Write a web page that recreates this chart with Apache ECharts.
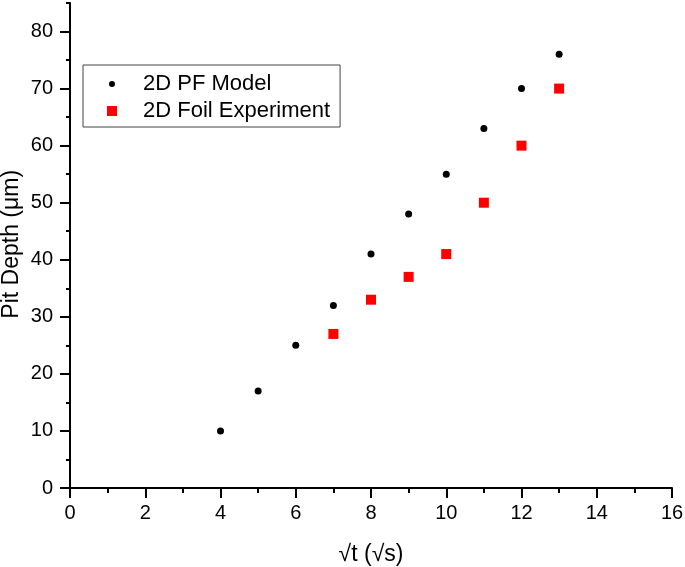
<!DOCTYPE html>
<html>
<head>
<meta charset="utf-8">
<script src="https://cdn.jsdelivr.net/npm/echarts@6/dist/echarts.min.js"></script>
<style>
html,body{margin:0;padding:0;background:#fff;}
#chart{width:685px;height:567px;}
</style>
</head>
<body>
<div id="chart"></div>
<script>
// ---- data ----
var modelX = [4, 5, 6, 7, 8, 9, 10, 11, 12, 13];
var modelY = [10, 17, 25, 32, 41, 48, 55, 63, 70, 76];
var foilX = [7, 8, 9, 10, 11, 12, 13];
var foilY = [27, 33, 37, 41, 50, 60, 70];
var seriesNames = ['2D PF Model', '2D Foil Experiment'];
var xTitle = '\u221At (\u221As)';
var yTitle = 'Pit Depth (\u03BCm)';

function pairs(xs, ys) { return xs.map(function (x, i) { return [x, ys[i]]; }); }

var FONT = '"Liberation Sans", Arial, sans-serif';
var chart = echarts.init(document.getElementById('chart'), null, {renderer: 'canvas'});

var circleIcon = 'path://M0,0L0.01,0L0,0.01Z M31,10L30.99,10L31,9.99Z M5,2A3,3 0 1 1 4.999,2Z';
var squareIcon = 'path://M0,0L0.01,0L0,0.01Z M31,10L30.99,10L31,9.99Z M0,0L10,0L10,10L0,10Z';

var gridTop = 3, gridBottom = 79;
var plotH = 567 - gridTop - gridBottom;
var grid2Top = gridTop + plotH * 5 / 85;

chart.setOption({
  backgroundColor: '#ffffff',
  animation: false,
  textStyle: {fontFamily: FONT},
  grid: [
    {left: 70, right: 13, top: gridTop, bottom: gridBottom, containLabel: false, outerBoundsMode: 'none'},
    {left: 70, right: 13, top: grid2Top, bottom: gridBottom, containLabel: false, outerBoundsMode: 'none'}
  ],
  legend: {
    left: 83, top: 65,
    orient: 'vertical',
    padding: [8, 10, 5, 24],
    itemGap: 5,
    itemWidth: 31, itemHeight: 10,
    borderColor: '#444', borderWidth: 1,
    textStyle: {fontFamily: FONT, fontSize: 22, color: '#000', lineHeight: 22},
    data: [
      {name: seriesNames[0], icon: circleIcon},
      {name: seriesNames[1], icon: squareIcon}
    ]
  },
  xAxis: [{
    gridIndex: 0,
    type: 'value', min: 0, max: 16, interval: 2,
    name: xTitle, nameLocation: 'middle', nameGap: 55,
    nameTextStyle: {fontFamily: FONT, fontSize: 23, color: '#000'},
    axisLine: {show: true, onZero: false, lineStyle: {color: '#000', width: 2}},
    axisTick: {show: true, length: 10, lineStyle: {color: '#000', width: 2}},
    minorTick: {show: true, splitNumber: 2, length: 5, lineStyle: {color: '#000', width: 2}},
    axisLabel: {fontFamily: FONT, fontSize: 20, color: '#000', margin: 15},
    splitLine: {show: false}
  }, {
    gridIndex: 1, type: 'value', min: 0, max: 16, show: false
  }],
  yAxis: [{
    gridIndex: 0,
    type: 'value', min: 0, max: 85, interval: 5,
    axisLine: {show: true, onZero: false, lineStyle: {color: '#000', width: 2}},
    axisTick: {show: true, length: 4, lineStyle: {color: '#000', width: 2}},
    axisLabel: {
      fontFamily: FONT, fontSize: 20, color: '#000', margin: 17,
      formatter: function (v) { return (v % 10 === 0) ? String(v) : ''; }
    },
    splitLine: {show: false}
  }, {
    gridIndex: 1,
    type: 'value', min: 0, max: 80, interval: 10,
    name: yTitle, nameLocation: 'middle', nameGap: 47, nameMoveOverlap: false,
    nameTextStyle: {fontFamily: FONT, fontSize: 23, color: '#000', padding: [0, 0, 0, 31]},
    axisLine: {show: false},
    axisTick: {show: true, length: 10, lineStyle: {color: '#000', width: 2}},
    axisLabel: {show: false},
    splitLine: {show: false}
  }],
  series: [{
    name: seriesNames[0],
    type: 'scatter',
    xAxisIndex: 0, yAxisIndex: 0,
    symbol: 'circle', symbolSize: 7,
    itemStyle: {color: '#000000', opacity: 1},
    data: pairs(modelX, modelY)
  }, {
    name: seriesNames[1],
    type: 'scatter',
    xAxisIndex: 0, yAxisIndex: 0,
    symbol: 'rect', symbolSize: 10,
    itemStyle: {color: '#ff0000', opacity: 1},
    data: pairs(foilX, foilY)
  }]
});
</script>
</body>
</html>
